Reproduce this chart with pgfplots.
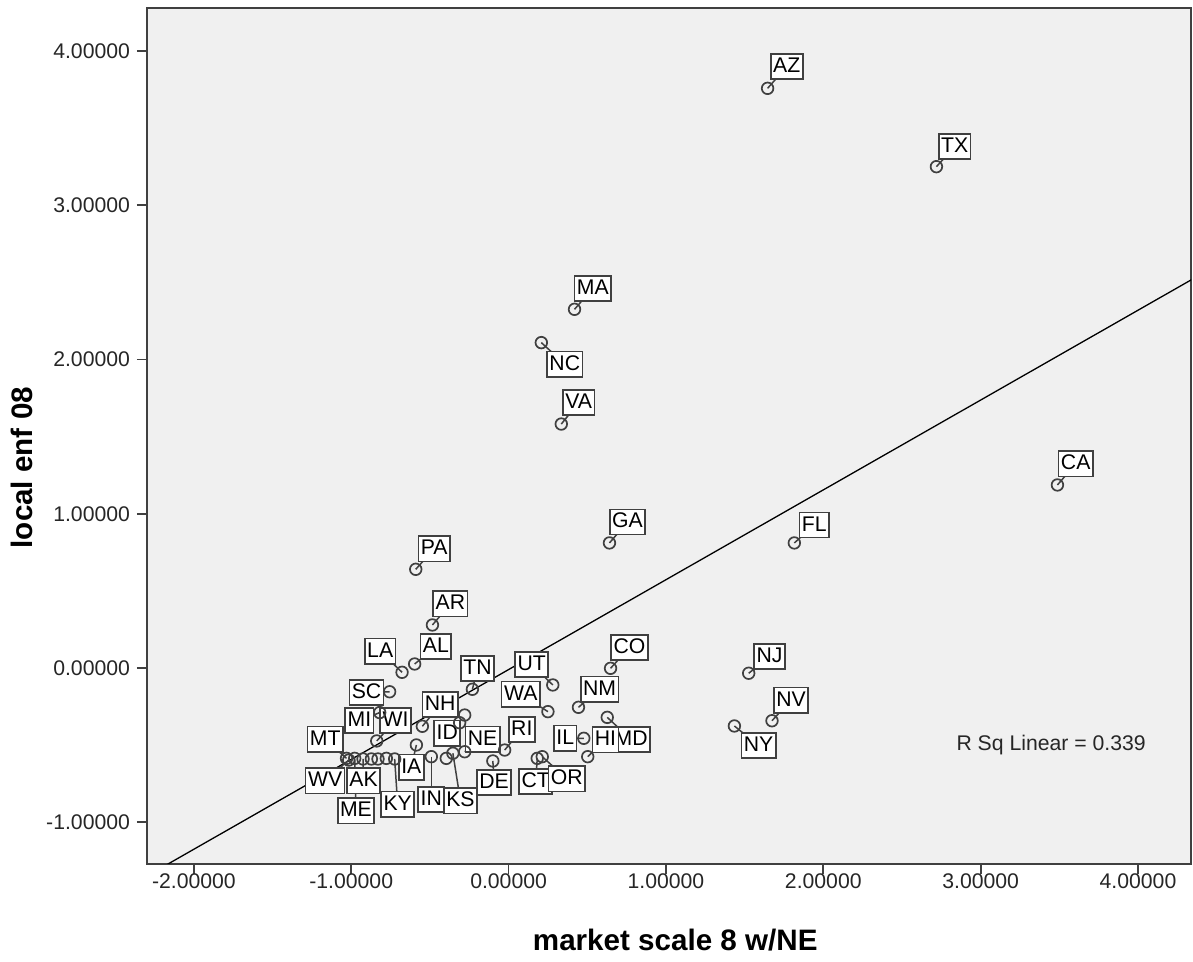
\documentclass[border=0pt]{standalone}
\usepackage{pgfplots}
\pgfplotsset{compat=1.18}
\usepackage{fontspec}
\setmainfont{Liberation Sans}
\definecolor{bg}{HTML}{F0F0F0}
\definecolor{fr}{HTML}{404040}

\pgfplotstableread{
x y lx ly lab
1.646 3.759 1.768 3.900 AZ
2.719 3.251 2.835 3.381 TX
0.419 2.326 0.535 2.462 MA
0.208 2.110 0.357 1.971 NC
0.335 1.582 0.446 1.722 VA
3.488 1.187 3.604 1.324 CA
0.641 0.811 0.756 0.947 GA
1.816 0.811 1.943 0.927 FL
-0.590 0.640 -0.473 0.773 PA
-0.484 0.279 -0.370 0.416 AR
-0.677 -0.028 -0.816 0.109 LA
-0.597 0.026 -0.462 0.138 AL
-0.230 -0.138 -0.197 -0.002 TN
0.281 -0.110 0.147 0.023 UT
0.250 -0.283 0.077 -0.170 WA
0.648 -0.002 0.768 0.133 CO
0.444 -0.255 0.578 -0.137 NM
0.627 -0.320 0.779 -0.464 MD
0.503 -0.575 0.615 -0.466 HI
0.478 -0.456 0.360 -0.455 IL
0.182 -0.586 0.173 -0.737 CT
0.214 -0.575 0.370 -0.719 OR
-0.025 -0.532 0.084 -0.399 RI
-0.100 -0.603 -0.092 -0.744 DE
-0.279 -0.543 -0.165 -0.462 NE
-0.756 -0.154 -0.903 -0.159 SC
-0.548 -0.378 -0.435 -0.238 NH
-0.311 -0.355 -0.390 -0.423 ID
-0.819 -0.289 -0.948 -0.342 MI
-0.838 -0.473 -0.719 -0.342 WI
-0.586 -0.499 -0.618 -0.643 IA
-0.491 -0.575 -0.491 -0.854 IN
-0.354 -0.553 -0.306 -0.861 KS
-0.724 -0.590 -0.705 -0.883 KY
-1.030 -0.586 -1.165 -0.462 MT
-1.016 -0.597 -1.166 -0.732 WV
-0.978 -0.586 -0.970 -0.926 ME
-0.925 -0.590 -0.922 -0.732 AK
1.526 -0.034 1.658 0.073 NJ
1.674 -0.342 1.795 -0.208 NV
1.435 -0.376 1.589 -0.503 NY
}\labeled

\pgfplotstableread{
x y
-0.279 -0.305
-0.396 -0.586
-0.872 -0.590
-0.830 -0.590
-0.777 -0.586
}\unlabeled

\begin{document}
\begin{tikzpicture}
\useasboundingbox (-73.5pt,-49pt) rectangle (523pt,432pt);
\begin{axis}[
  at={(0,0)}, anchor=south west,
  scale only axis, width=522pt, height=428pt,
  xmin=-2.298, xmax=4.337, ymin=-1.271, ymax=4.280,
  axis background/.style={fill=bg},
  axis line style={fr, line width=0.9pt},
  xtick={-2,-1,0,1,2,3,4}, ytick={-1,0,1,2,3,4},
  xtick pos=bottom, ytick pos=left,
  tick align=outside, major tick length=5pt,
  tick style={fr, line width=0.9pt},
  /pgf/number format/.cd, fixed, fixed zerofill, precision=5, assume math mode=true,
  /pgfplots/.cd,
  ticklabel style={font=\fontsize{10.6}{12}\selectfont, black!85},
  xticklabel style={yshift=3.5pt},
  xlabel={market scale 8 w/NE},
  ylabel={local enf 08},
  label style={font=\fontsize{14.8}{17}\selectfont\bfseries},
  xlabel style={at={(axis description cs:0.506,-0.0888)}, anchor=center},
  ylabel style={at={(axis description cs:-0.1197,0.463)}, anchor=center, rotate=0},
  clip=true,
]
\addplot[black, line width=0.65pt] coordinates {(-2.30,-1.350) (4.40,2.553)};
\addplot[fr, line width=0.75pt, quiver={u=\thisrow{lx}-\thisrow{x}, v=\thisrow{ly}-\thisrow{y}}] table[x=x,y=y] {\labeled};
\addplot[only marks, mark=none, point meta=explicit symbolic,
  nodes near coords,
  every node near coord/.append style={anchor=center, draw=fr, line width=0.85pt, fill=white,
    font=\fontsize{10.6}{12}\selectfont, text height=7.8pt, text depth=1.8pt,
    inner xsep=1.2pt, inner ysep=1.5pt}]
  table[x=lx,y=ly,meta=lab] {\labeled};
\addplot[only marks, mark=o, mark size=2.9pt, fr, mark options={line width=0.85pt}] table[x=x,y=y] {\labeled};
\addplot[only marks, mark=o, mark size=2.9pt, fr, mark options={line width=0.85pt}] table[x=x,y=y] {\unlabeled};
\node[font=\fontsize{10.6}{12}\selectfont, black!85] at (axis cs:3.448,-0.499) {R Sq Linear = 0.339};
\end{axis}
\end{tikzpicture}
\end{document}
